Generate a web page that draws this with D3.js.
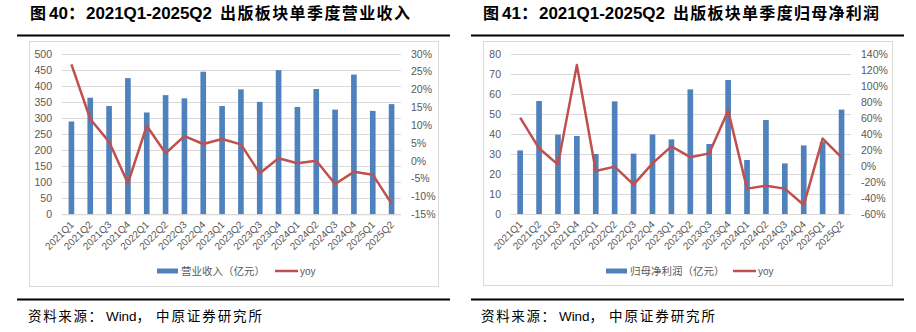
<!DOCTYPE html>
<html><head><meta charset="utf-8">
<script src="https://cdn.jsdelivr.net/npm/d3@7"></script>
<style>
html,body{margin:0;padding:0;background:#fff;}
svg{display:block;font-family:"Liberation Sans","Noto Sans CJK SC",sans-serif;}
</style></head>
<body>
<svg id="c" width="916" height="332"></svg>
<script>
const quarters = ["2021Q1","2021Q2","2021Q3","2021Q4","2022Q1","2022Q2","2022Q3","2022Q4","2023Q1","2023Q2","2023Q3","2023Q4","2024Q1","2024Q2","2024Q3","2024Q4","2025Q1","2025Q2"];
const revenue = [289,363,337,424,317,371,361,444,337,389,350,449,334,390,326,435,322,343];
const revenueYoy = [27.0,11.7,5.3,-6.3,9.8,2.1,6.9,4.7,6.1,4.6,-3.5,0.7,-0.7,0.0,-6.5,-3.1,-3.9,-12.0];
const profit = [31.8,56.5,39.7,39.0,30.0,56.3,30.2,39.8,37.3,62.3,35.0,67.0,27.0,47.0,25.3,34.3,36.0,52.2];
const profitYoy = [60.4,22.1,1.7,126.2,-6.3,-0.8,-23.3,3.3,24.6,11.0,15.8,69.2,-28.3,-24.6,-28.3,-48.8,34.2,10.8];
const revTicks = [0,50,100,150,200,250,300,350,400,450,500];
const revYoyTicks = [-15,-10,-5,0,5,10,15,20,25,30];
const profTicks = [0,10,20,30,40,50,60,70,80];
const profYoyTicks = [-60,-40,-20,0,20,40,60,80,100,120,140];
const titleNums = ["40：","41："];
const titlePeriod = "2021Q1-2025Q2";
const titleTexts = ["出版板块单季度营业收入","出版板块单季度归母净利润"];
const barNames = ["营业收入（亿元）","归母净利润（亿元）"];
const lineName = "yoy";
const sourceParts = ["资料来源：","Wind，","中原证券研究所"];

const svg = d3.select("#c");
const BLUE = "#4F81BD", RED = "#C0504D", GRID = "#d9d9d9", TXT = "#595959";

function seg(g, x, y, size, weight, txt, len){
  const t = g.append("text").attr("x", x).attr("y", y).attr("font-size", size).attr("font-weight", weight).attr("fill", "#000").text(txt);
  if (len) t.attr("textLength", len).attr("lengthAdjust", "spacing");
  return t;
}

function chart(o){
  const g = svg.append("g");
  const X = o.titleX;
  // title
  seg(g, X, 19, 16, "bold", "图", null);
  seg(g, X + 19, 19, 17, "bold", o.num, 36);
  seg(g, X + 56, 19, 17, "bold", titlePeriod, 126);
  seg(g, X + 190, 19, 16, "bold", o.title, o.titleLen);
  g.append("line").attr("x1", o.lineX1).attr("x2", o.lineX2).attr("y1", 35.5).attr("y2", 35.5).attr("stroke", "#000").attr("stroke-width", 2);
  // box
  g.append("rect").attr("x", o.box[0] + 0.5).attr("y", 41.5).attr("width", o.box[1] - o.box[0]).attr("height", o.boxBottom - 41).attr("fill", "#fff").attr("stroke", GRID).attr("stroke-width", 1);
  const x = d3.scaleBand().domain(quarters).range([o.px0, o.px1]).paddingInner(0.7).paddingOuter(0.35);
  const yL = d3.scaleLinear().domain(o.lDomain).range([o.py1, o.py0]);
  const yR = d3.scaleLinear().domain(o.rDomain).range([o.py1, o.py0]);
  // grid
  g.append("g").selectAll("line").data(o.lTicks).join("line")
    .attr("x1", o.px0).attr("x2", o.px1)
    .attr("y1", d => Math.round(yL(d)) + 0.5).attr("y2", d => Math.round(yL(d)) + 0.5)
    .attr("stroke", GRID).attr("stroke-width", 1);
  // left axis
  const la = g.append("g").attr("transform", `translate(${o.lLabelX},0)`)
    .call(d3.axisLeft(yL).tickValues(o.lTicks).tickSize(0).tickPadding(0));
  la.select(".domain").remove();
  la.selectAll("text").attr("font-size", 10.5).attr("fill", TXT).attr("font-family", "Liberation Sans, sans-serif");
  // right axis
  const ra = g.append("g").attr("transform", `translate(${o.rLabelX},0)`)
    .call(d3.axisRight(yR).tickValues(o.rTicks).tickSize(0).tickPadding(0).tickFormat(d => d + "%"));
  ra.select(".domain").remove();
  ra.selectAll("text").attr("font-size", 10.5).attr("fill", TXT).attr("font-family", "Liberation Sans, sans-serif");
  // bars
  g.append("g").selectAll("rect").data(o.bars).join("rect")
    .attr("x", (d, i) => x(quarters[i])).attr("width", x.bandwidth())
    .attr("y", d => yL(d)).attr("height", d => yL(0) - yL(d)).attr("fill", BLUE);
  // baseline axis
  g.append("line").attr("x1", o.px0).attr("x2", o.px1).attr("y1", yL(0) + 0.5).attr("y2", yL(0) + 0.5).attr("stroke", GRID);
  // line
  const line = d3.line().x((d, i) => x(quarters[i]) + x.bandwidth() / 2).y(d => yR(d));
  g.append("path").datum(o.line).attr("d", line).attr("fill", "none").attr("stroke", RED).attr("stroke-width", 2.5).attr("stroke-linejoin", "round");
  // x labels
  const xa = g.append("g").attr("transform", `translate(0,${yL(0)})`)
    .call(d3.axisBottom(x).tickSize(0).tickPadding(0));
  xa.select(".domain").remove();
  xa.selectAll("text").attr("font-size", 10).attr("fill", TXT).attr("font-family", "Liberation Sans, sans-serif")
    .attr("text-anchor", "end").attr("dy", null).attr("y", 0)
    .attr("transform", "translate(3,11) rotate(-45)");
  // legend
  const ly = 271;
  g.append("rect").attr("x", o.legX).attr("y", ly - 2.5).attr("width", 21).attr("height", 5).attr("fill", BLUE);
  g.append("text").attr("x", o.legX + 24).attr("y", ly + 4).attr("font-size", 10.5).attr("fill", TXT).text(o.barName);
  g.append("line").attr("x1", o.legX2).attr("x2", o.legX2 + 23).attr("y1", ly).attr("y2", ly).attr("stroke", RED).attr("stroke-width", 2.5);
  g.append("text").attr("x", o.legX2 + 25).attr("y", ly + 3.5).attr("font-size", 10).attr("fill", TXT).text(lineName);
  // footer line and source
  g.append("line").attr("x1", o.lineX1).attr("x2", o.lineX2).attr("y1", 299.5).attr("y2", 299.5).attr("stroke", "#000").attr("stroke-width", 2);
  const S = o.titleX - 2;
  seg(g, S, 321, 13.5, "normal", sourceParts[0], 74);
  seg(g, S + 78, 321, 13.5, "normal", sourceParts[1], 44);
  seg(g, S + 128, 321, 13.5, "normal", sourceParts[2], 106);
}

chart({num: titleNums[0], title: titleTexts[0], titleLen: 190, titleX: 30, lineX1: 17, lineX2: 450, box: [29, 438], boxBottom: 286,
  px0: 62, px1: 401, py0: 53.7, py1: 214.3, lDomain: [0, 500], rDomain: [-15, 30],
  lTicks: revTicks, rTicks: revYoyTicks, lLabelX: 52, rLabelX: 411,
  bars: revenue, line: revenueYoy, barName: barNames[0], legX: 157, legX2: 275});
chart({num: titleNums[1], title: titleTexts[1], titleLen: 206, titleX: 483, lineX1: 471, lineX2: 904, box: [483, 892], boxBottom: 285,
  px0: 510.7, px1: 851, py0: 54, py1: 214, lDomain: [0, 80], rDomain: [-60, 140],
  lTicks: profTicks, rTicks: profYoyTicks, lLabelX: 501, rLabelX: 861,
  bars: profit, line: profitYoy, barName: barNames[1], legX: 606, legX2: 733});
</script>
</body></html>
